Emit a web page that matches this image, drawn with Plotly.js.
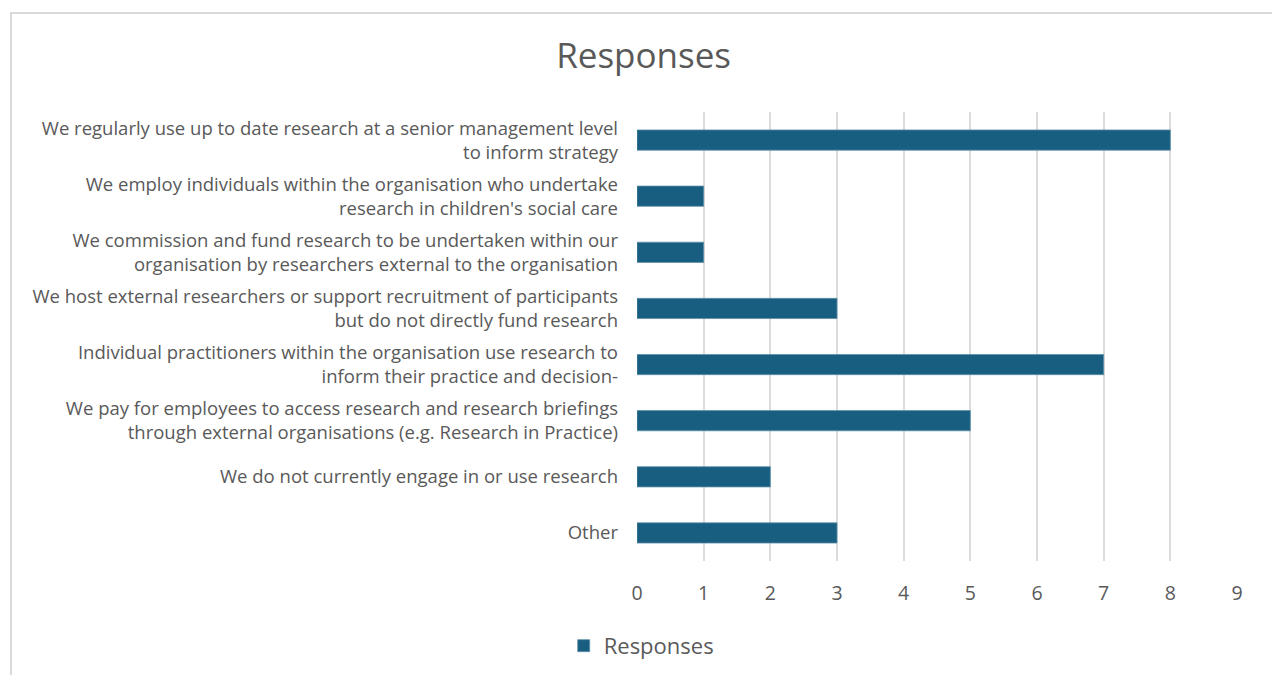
<!DOCTYPE html>
<html><head><meta charset="utf-8">
<script src="https://cdn.plot.ly/plotly-3.0.1.min.js"></script>
<style>
html,body{margin:0;padding:0;background:#fff;}
#frame{position:absolute;left:10px;top:12px;width:1300px;height:700px;border:2px solid #d9d9d9;box-sizing:border-box;}
#chart{position:absolute;left:0;top:0;width:1272px;height:675px;}
</style></head>
<body>
<div id="frame"></div>
<div id="chart"></div>
<script>
const categories = [
  "We regularly use up to date research at a senior management level<br>to inform strategy",
  "We employ individuals within the organisation who undertake<br>research in children's social care",
  "We commission and fund research to be undertaken within our<br>organisation by researchers external to the organisation",
  "We host external researchers or support recruitment of participants<br>but do not directly fund research",
  "Individual practitioners within the organisation use research to<br>inform their practice and decision-",
  "We pay for employees to access research and research briefings<br>through external organisations (e.g. Research in Practice)",
  "We do not currently engage in or use research",
  "Other"
];
const responses = [8, 1, 1, 3, 7, 5, 2, 3];
const tickVals = [0,1,2,3,4,5,6,7,8,9];

const trace = {
  type: 'bar',
  orientation: 'h',
  name: 'Responses',
  y: categories,
  x: responses,
  marker: {color: '#175e80', line: {color: '#5f8fa8', width: 0.8}},
  hoverinfo: 'x+y'
};

const layout = {
  width: 1272, height: 675,
  paper_bgcolor: 'rgba(0,0,0,0)', plot_bgcolor: 'rgba(0,0,0,0)',
  margin: {l: 637, r: 35, t: 112, b: 114, autoexpand: false},
  title: {text: 'Responses', x: 0.506, xanchor: 'center', y: 0.918, yanchor: 'middle',
          font: {family: 'Open Sans, sans-serif', size: 35, color: '#595959'}},
  font: {family: 'Open Sans, sans-serif', color: '#595959'},
  bargap: 0.64,
  showlegend: true,
  legend: {orientation: 'h', x: 0.007, xanchor: 'center', y: -0.189, yanchor: 'middle',
           font: {size: 22, color: '#595959'}, itemwidth: 30},
  xaxis: {range: [0, 9], tickvals: tickVals, showgrid: true, gridcolor: '#dcdcdc', gridwidth: 2,
          zeroline: false, showline: false, ticks: '', ticklabelstandoff: 18, automargin: false,
          tickfont: {size: 19.5, color: '#595959'}, fixedrange: true},
  yaxis: {autorange: 'reversed', type: 'category', showgrid: false, zeroline: false,
          showline: false, ticks: '', ticklabelstandoff: 18, automargin: false,
          tickfont: {size: 18.5, color: '#595959'}, fixedrange: true}
};

Plotly.newPlot('chart', [trace], layout, {displayModeBar: false, staticPlot: true});
</script>
</body></html>
